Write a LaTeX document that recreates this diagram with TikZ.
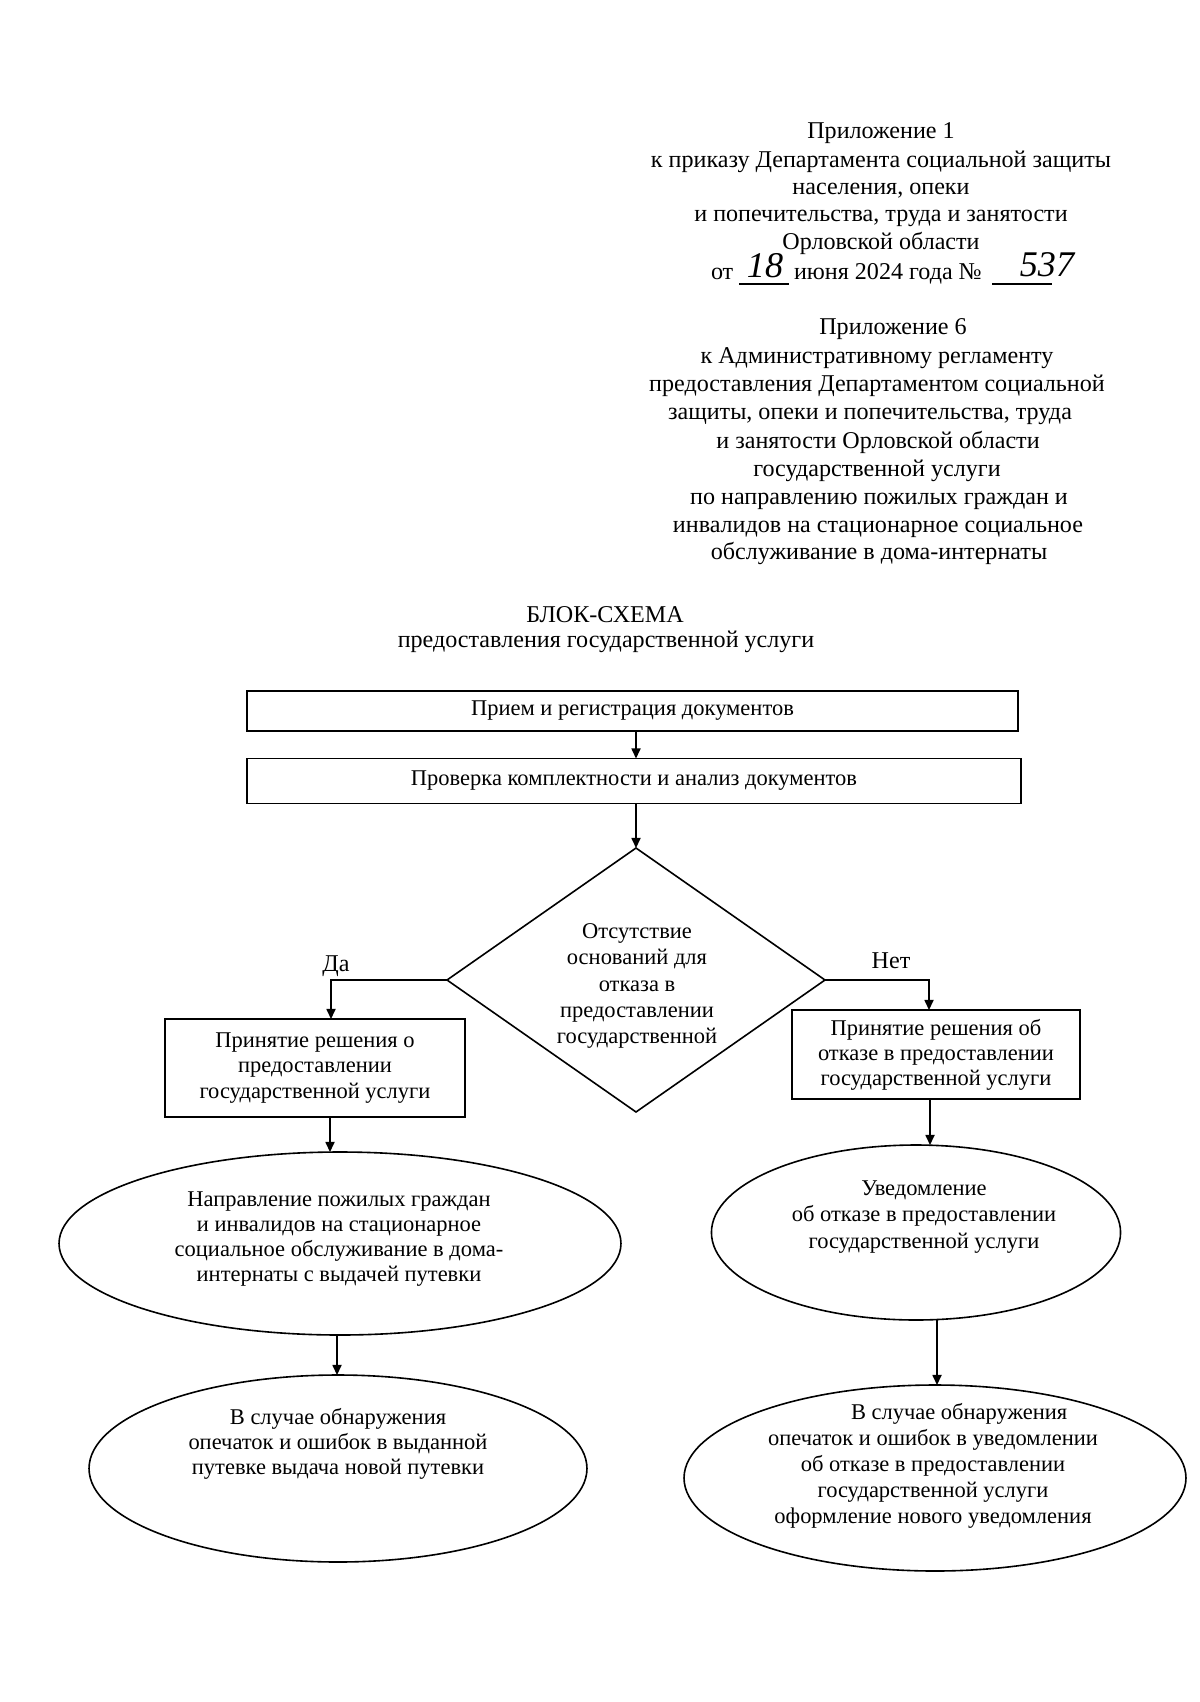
\documentclass[tikz,border=0pt]{standalone}
\usepackage{fontspec}
\setmainfont{Liberation Serif}
\usetikzlibrary{shapes.geometric,arrows.meta}
\begin{document}
\begin{tikzpicture}[x=0.0175cm,y=-0.0175cm,
  every node/.style={inner sep=0pt,outer sep=0pt},
  txt/.style={font=\fontsize{12}{14}\selectfont,anchor=base},
  lbl/.style={font=\fontsize{11.2}{12.5}\selectfont,align=center},
  blk/.style={draw,line width=0.8pt,rectangle,font=\fontsize{11.2}{12.5}\selectfont,align=center},
  ell/.style={draw,line width=0.8pt,ellipse},
  dia/.style={draw,line width=0.8pt,diamond},
  arr/.style={line width=0.8pt,-{Triangle[length=5pt,width=4.5pt]}},
  ln/.style={line width=0.7pt},
  hand/.style={font=\fontsize{18}{18}\selectfont\itshape}]
\fill[white] (0,0) rectangle (1200,1702);
\useasboundingbox (0,0) rectangle (1200,1702);

% header block 1
\node[txt] (h1) at (881,138) {Приложение 1};
\node[txt] (h2) at (881,167) {к приказу Департамента социальной защиты};
\node[txt] (h3) at (881,194) {населения, опеки};
\node[txt] (h4) at (881,221) {и попечительства, труда и занятости};
\node[txt] (h5) at (881,249) {Орловской области};
\node[txt,anchor=base west] (h6a) at (711,279) {от};
\draw[ln] (739,284) -- (789,284);
\node[hand] (h6b) at (765,266) {18};
\node[txt,anchor=base west] (h6c) at (794,279) {июня 2024 года №};
\draw[ln] (992,284) -- (1052,284);
\node[hand] (h6d) at (1047,265) {537};

% header block 2
\node[txt] (g1) at (893,334) {Приложение 6};
\node[txt] (g2) at (877,363) {к Административному регламенту};
\node[txt] (g3) at (877,391) {предоставления Департаментом социальной};
\node[txt] (g4) at (870,419) {защиты, опеки и попечительства, труда};
\node[txt] (g5) at (878,448) {и занятости Орловской области};
\node[txt] (g6) at (877,476) {государственной услуги};
\node[txt] (g7) at (879,504) {по направлению пожилых граждан и};
\node[txt] (g8) at (878,532) {инвалидов на стационарное социальное};
\node[txt] (g9) at (879,559) {обслуживание в дома-интернаты};

% title
\node[txt] (t1) at (605,622) {БЛОК-СХЕМА};
\node[txt] (t2) at (606,647) {предоставления государственной услуги};

% boxes
\node[blk,minimum width=13.4925cm,minimum height=0.7cm] (b1) at (632.5,711) {Прием и регистрация документов};
\node[blk,minimum width=13.545cm,minimum height=0.7875cm] (b2) at (634,781) {Проверка комплектности и анализ документов};

% decision
\node[dia,minimum width=6.615cm,minimum height=4.62cm] (d) at (636,980) {};
\node[lbl,font=\fontsize{11.2}{13}\selectfont] (dt) at (637,986) {Отсутствие\\оснований для\\отказа в\\предоставлении\\государственной};

\node[font=\fontsize{12}{14}\selectfont] (da) at (336,966) {Да};
\node[font=\fontsize{12}{14}\selectfont] (net) at (891,961) {Нет};

\node[blk,minimum width=5.25cm,minimum height=1.715cm] (lb) at (315,1068) {Принятие решения о\\предоставлении\\государственной услуги};
\node[blk,minimum width=5.04cm,minimum height=1.5575cm] (rb) at (936,1054.5) {Принятие решения об\\отказе в предоставлении\\государственной услуги};

% ellipses
\node[ell,minimum width=9.835cm,minimum height=3.2025cm] (e1) at (340,1243.5) {};
\node[lbl] (e1t) at (339,1239) {Направление пожилых граждан\\и инвалидов на стационарное\\социальное обслуживание в дома-\\интернаты с выдачей путевки};
\node[ell,minimum width=8.715cm,minimum height=3.2725cm] (e2) at (338,1468.5) {};
\node[lbl] (e2t) at (338,1444) {В случае обнаружения\\опечаток и ошибок в выданной\\путевке выдача новой путевки};
\node[ell,minimum width=7.16cm,minimum height=3.0625cm] (e3) at (916,1232.5) {};
\node[lbl,font=\fontsize{11.2}{13}\selectfont] (e3t) at (924,1217) {Уведомление\\об отказе в предоставлении\\государственной услуги};
\node[ell,minimum width=8.785cm,minimum height=3.255cm] (e4) at (935,1478) {};
\node[lbl,font=\fontsize{11.2}{12.9}\selectfont] (e4t) at (933,1466) {\hspace*{26pt}В случае обнаружения\\опечаток и ошибок в уведомлении\\об отказе в предоставлении\\государственной услуги\\оформление нового уведомления};

% connector x positions
\coordinate (xc) at (636,0);
\coordinate (xl) at (331,0);
\coordinate (xr) at (929,0);
\coordinate (xl2) at (330,0);
\coordinate (xl3) at (337,0);
\coordinate (xr2) at (930,0);
\coordinate (xr3) at (937,0);

\draw[arr] (b1.south -| xc) -- (b2.north -| xc);
\draw[arr] (b2.south -| xc) -- (d.north);
\draw[arr] (d.west) -| (lb.north -| xl);
\draw[arr] (d.east) -| (rb.north -| xr);
\draw[arr] (lb.south -| xl2) -- (e1.north -| xl2);
\draw[arr] (e1.south -| xl3) -- (e2.north -| xl3);
\draw[arr] (rb.south -| xr2) -- (e3.north -| xr2);
\draw[arr] (e3.south -| xr3) -- (e4.north -| xr3);
\end{tikzpicture}
\end{document}
